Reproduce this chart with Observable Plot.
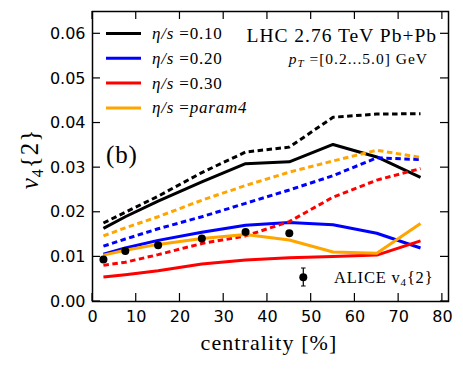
<!DOCTYPE html>
<html><head><meta charset="utf-8">
<script src="https://cdn.jsdelivr.net/npm/d3@7"></script>
<script src="https://cdn.jsdelivr.net/npm/@observablehq/plot@0.6"></script>
<style>body{margin:0;background:#fff} svg{display:block}</style>
</head><body><div id="chart"></div>
<script>
const centrality = [2.5, 7.5, 15, 25, 35, 45, 55, 65, 75];
// solid lines
const solidEta010 = [0.0164, 0.0190, 0.0225, 0.0268, 0.0309, 0.0313, 0.0352, 0.0324, 0.0278];
const solidEta020 = [0.0106, 0.0120, 0.0137, 0.0155, 0.0171, 0.0177, 0.0172, 0.0153, 0.0120];
const solidEta030 = [0.0055, 0.0060, 0.0069, 0.0084, 0.0093, 0.0098, 0.0101, 0.0104, 0.0136];
const solidParam4 = [0.0104, 0.0115, 0.0128, 0.0141, 0.0150, 0.0138, 0.0111, 0.0108, 0.0175];
// dashed lines
const dashedEta010 = [0.0176, 0.0200, 0.0236, 0.0289, 0.0335, 0.0346, 0.0413, 0.0420, 0.0421];
const dashedEta020 = [0.0124, 0.0140, 0.0163, 0.0190, 0.0220, 0.0250, 0.0282, 0.0322, 0.0318];
const dashedEta030 = [0.0081, 0.0088, 0.0105, 0.0130, 0.0147, 0.0179, 0.0234, 0.0272, 0.0298];
const dashedParam4 = [0.0147, 0.0165, 0.0190, 0.0227, 0.0260, 0.0290, 0.0315, 0.0339, 0.0323];
// ALICE data
const aliceCentrality = [2.5, 7.5, 15, 25, 35, 45];
const aliceV4 = [0.0094, 0.0113, 0.0126, 0.0141, 0.0156, 0.0153];
const aliceErr = [0.0003, 0.0003, 0.0003, 0.0003, 0.0003, 0.0003];

const xTicks = [0, 10, 20, 30, 40, 50, 60, 70, 80];
const yTicks = [0, 0.01, 0.02, 0.03, 0.04, 0.05, 0.06];
const seriesNames = ["η/s=0.10", "η/s=0.20", "η/s=0.30", "η/s=param4"];
const seriesColors = ["black", "#0000ff", "#ff0000", "#ffa500"];
const solidSeries = [solidEta010, solidEta020, solidEta030, solidParam4];
const dashedSeries = [dashedEta010, dashedEta020, dashedEta030, dashedParam4];

const rows = (vals, name) => centrality.map((c, i) => ({c, v: vals[i], name}));
const alice = aliceCentrality.map((c, i) => ({c, v: aliceV4[i], e: aliceErr[i]}));

const lineMarks = [];
seriesNames.forEach((n, k) => {
  lineMarks.push(Plot.line(rows(solidSeries[k], n), {x: "c", y: "v", stroke: seriesColors[k], strokeWidth: 3, strokeLinecap: "butt", strokeLinejoin: "round"}));
  lineMarks.push(Plot.line(rows(dashedSeries[k], n), {x: "c", y: "v", stroke: seriesColors[k], strokeWidth: 3, strokeDasharray: "5.5,3.5", strokeLinecap: "butt", strokeLinejoin: "miter"}));
});

const chart = Plot.plot({
  width: 463, height: 371,
  marginLeft: 92, marginRight: 15, marginTop: 11, marginBottom: 70,
  style: {fontFamily: "DejaVu Sans", fontSize: "16px", color: "black", background: "white"},
  x: {domain: [0, 81.4], label: null},
  y: {domain: [0, 0.065], label: null},
  marks: [
    ...lineMarks,
    Plot.ruleX(alice, {x: "c", y1: d => d.v - d.e, y2: d => d.v + d.e, stroke: "black", strokeWidth: 1.2}),
    Plot.dot(alice, {x: "c", y: "v", r: 4, fill: "black"}),
    Plot.axisX({anchor: "bottom", ticks: xTicks, tickSize: 0, tickPadding: 9, tickFormat: d => String(d), label: null, fontSize: 16}),
    Plot.axisY({anchor: "left", ticks: yTicks, tickSize: 0, tickPadding: 7, tickFormat: d3.format(".2f"), label: null, fontSize: 16}),
    Plot.frame({stroke: "black", strokeWidth: 1.5})
  ]
});
document.getElementById("chart").appendChild(chart);

const svg = d3.select(chart);
const xs = chart.scale("x"), ys = chart.scale("y");
const [fx0, fx1] = xs.range, [fy0, fy1] = ys.range; // fy0 bottom, fy1 top
const tk = svg.append("g").attr("stroke", "black").attr("stroke-width", 1.2);
xTicks.forEach(t => {
  const px = xs.apply(t);
  tk.append("line").attr("x1", px).attr("x2", px).attr("y1", fy0).attr("y2", fy0 - 8);
  tk.append("line").attr("x1", px).attr("x2", px).attr("y1", fy1).attr("y2", fy1 + 8);
});
yTicks.forEach(t => {
  const py = ys.apply(t);
  tk.append("line").attr("x1", fx0).attr("x2", fx0 + 8).attr("y1", py).attr("y2", py);
  tk.append("line").attr("x1", fx1).attr("x2", fx1 - 8).attr("y1", py).attr("y2", py);
});

const serif = "Liberation Serif";
const g = svg.append("g").attr("font-family", serif).attr("fill", "black").attr("text-anchor", "start");

// y label v_4{2}
const yl = g.append("text").attr("transform", "translate(38,159) rotate(-90)")
  .attr("text-anchor", "middle").attr("font-size", 25).attr("letter-spacing", 1);
yl.append("tspan").attr("font-style", "italic").text("v");
yl.append("tspan").attr("font-size", 16).attr("dy", 5).text("4");
yl.append("tspan").attr("dy", -5).text("{2}");

// x label
g.append("text").attr("x", 269).attr("y", 350).attr("text-anchor", "middle")
  .attr("font-size", 22).attr("letter-spacing", 1.1).text("centrality [%]");

// legend
const legendLabels = ["0.10", "0.20", "0.30", "param4"];
legendLabels.forEach((lab, k) => {
  const y = 33.5 + k * 24.8;
  g.append("line").attr("x1", 106).attr("x2", 141).attr("y1", y).attr("y2", y)
    .attr("stroke", seriesColors[k]).attr("stroke-width", 3);
  const t = g.append("text").attr("x", 152).attr("y", y + 5.5).attr("font-size", 17).attr("letter-spacing", 0.8);
  t.append("tspan").attr("font-style", "italic").text("η/s");
  t.append("tspan").text(" =");
  t.append("tspan").attr("font-style", k === 3 ? "italic" : "normal").text(lab);
});

// top-right annotation
g.append("text").attr("x", 437).attr("y", 42).attr("text-anchor", "end")
  .attr("font-size", 19.5).attr("letter-spacing", 1).text("LHC 2.76 TeV Pb+Pb");
const pt = g.append("text").attr("x", 428).attr("y", 64).attr("text-anchor", "end").attr("font-size", 15.5).attr("letter-spacing", 1);
pt.append("tspan").attr("font-style", "italic").text("p");
pt.append("tspan").attr("font-style", "italic").attr("font-size", 11).attr("dy", 3).text("T");
pt.append("tspan").attr("dy", -3).text(" =[0.2...5.0] GeV");

// (b)
g.append("text").attr("x", 106).attr("y", 163).attr("font-size", 25).attr("letter-spacing", 0.8).text("(b)");

// ALICE legend
g.append("line").attr("x1", 303.3).attr("x2", 303.3).attr("y1", 268).attr("y2", 286)
  .attr("stroke", "black").attr("stroke-width", 1.2);
g.append("line").attr("x1", 301).attr("x2", 305.6).attr("y1", 268).attr("y2", 268).attr("stroke", "black").attr("stroke-width", 1);
g.append("line").attr("x1", 301).attr("x2", 305.6).attr("y1", 286).attr("y2", 286).attr("stroke", "black").attr("stroke-width", 1);
g.append("circle").attr("cx", 303.3).attr("cy", 277.3).attr("r", 4).attr("fill", "black");
const al = g.append("text").attr("x", 334).attr("y", 283).attr("font-size", 16.5).attr("letter-spacing", 0.8);
al.append("tspan").text("ALICE v");
al.append("tspan").attr("font-size", 11).attr("dy", 3).text("4");
al.append("tspan").attr("dy", -3).text("{2}");
</script>
</body></html>
